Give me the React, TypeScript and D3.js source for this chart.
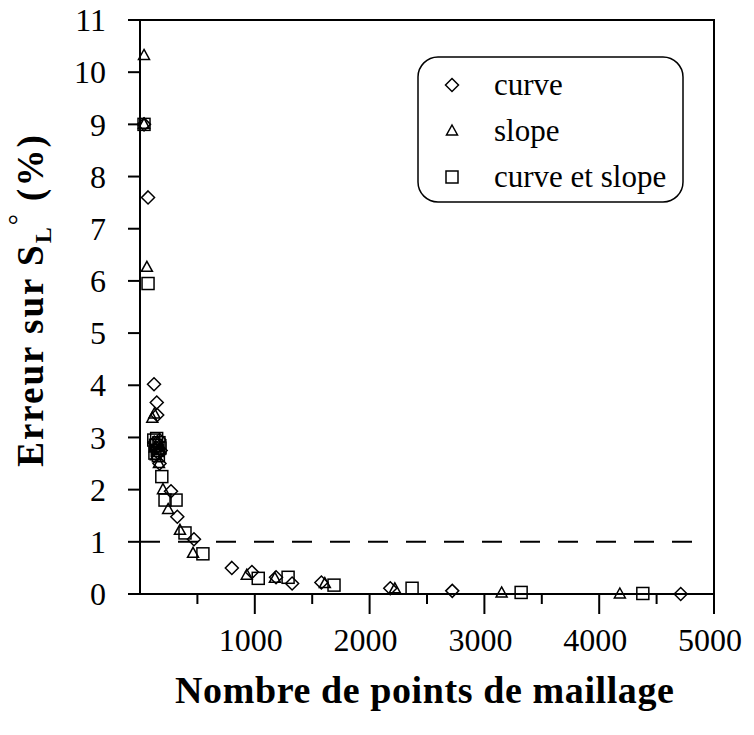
import React from "react";
import * as d3 from "d3";

const curveX = [35, 70, 122, 146, 150, 125, 145, 160, 170, 180, 170, 270, 325, 470, 800, 975, 1185, 1325, 1580, 2180, 2720, 4710];
const curveY = [9.0, 7.6, 4.02, 3.67, 3.43, 2.9, 2.8, 2.7, 2.95, 2.75, 2.5, 1.97, 1.48, 1.05, 0.5, 0.42, 0.32, 0.2, 0.22, 0.11, 0.06, 0.0];

const slopeX = [35, 35, 60, 107, 125, 130, 155, 170, 140, 165, 200, 245, 348, 462, 930, 1175, 1610, 2220, 3150, 4180];
const slopeY = [10.32, 9.0, 6.26, 3.37, 3.45, 2.8, 2.9, 2.75, 2.65, 2.5, 2.0, 1.62, 1.22, 0.78, 0.36, 0.3, 0.2, 0.1, 0.02, 0.0];

const csX = [35, 70, 120, 135, 150, 165, 175, 130, 145, 160, 190, 218, 314, 392, 548, 1030, 1290, 1690, 2370, 3320, 4380];
const csY = [9.0, 5.95, 2.95, 2.85, 2.75, 2.9, 2.8, 2.7, 2.98, 2.65, 2.25, 1.8, 1.8, 1.17, 0.77, 0.3, 0.32, 0.17, 0.11, 0.03, 0.01];

const xMajorTicks = [1000, 2000, 3000, 4000, 5000];
const xMinorTicks = [500, 1500, 2500, 3500, 4500];
const yTicks = [0, 1, 2, 3, 4, 5, 6, 7, 8, 9, 10, 11];
const thresholdY = 1;

const legendLabels = ["curve", "slope", "curve et slope"];

const FONT = "'Liberation Serif', 'Times New Roman', serif";

function Marker({ type, cx, cy }: { type: string; cx: number; cy: number }) {
  const sw = 1.5;
  if (type === "diamond") {
    const r = 6.5;
    return (
      <path
        d={`M${cx},${cy - r}L${cx + r},${cy}L${cx},${cy + r}L${cx - r},${cy}Z`}
        fill="none"
        stroke="#000"
        strokeWidth={sw}
      />
    );
  }
  if (type === "triangle") {
    const w = 5.5;
    const h = 10;
    return (
      <path
        d={`M${cx},${cy - h * 0.6}L${cx + w},${cy + h * 0.4}L${cx - w},${cy + h * 0.4}Z`}
        fill="none"
        stroke="#000"
        strokeWidth={sw}
      />
    );
  }
  const s = 6;
  return <rect x={cx - s} y={cy - s} width={2 * s} height={2 * s} fill="none" stroke="#000" strokeWidth={sw} />;
}

export default function App() {
  const W = 754;
  const H = 735;
  const x = d3.scaleLinear().domain([0, 5000]).range([140, 714]);
  const y = d3.scaleLinear().domain([0, 11]).range([594, 20]);

  const series = [
    { type: "diamond", xs: curveX, ys: curveY },
    { type: "triangle", xs: slopeX, ys: slopeY },
    { type: "square", xs: csX, ys: csY },
  ];

  const legendTypes = ["diamond", "triangle", "square"];

  return (
    <svg width={W} height={H} style={{ position: "absolute", left: 0, top: 0, background: "#fff" }}>
      <rect x={0} y={0} width={W} height={H} fill="#fff" />
      {/* plot frame */}
      <rect x={x(0)} y={y(11)} width={x(5000) - x(0)} height={y(0) - y(11)} fill="none" stroke="#000" strokeWidth={2} />
      {/* y ticks */}
      {yTicks.map((t) => (
        <g key={"y" + t}>
          <line x1={x(0) - 12} x2={x(0)} y1={y(t)} y2={y(t)} stroke="#000" strokeWidth={2} />
          <text
            x={106}
            y={y(t)}
            dy="0.35em"
            textAnchor="end"
            fontFamily={FONT}
            fontSize={32}
            fill="#000"
          >
            {t}
          </text>
        </g>
      ))}
      {/* x ticks */}
      {xMajorTicks.map((t) => (
        <g key={"xM" + t}>
          <line x1={x(t)} x2={x(t)} y1={y(0)} y2={y(0) + 20} stroke="#000" strokeWidth={2} />
          <text x={x(t) - 4} y={651} textAnchor="middle" fontFamily={FONT} fontSize={32} fill="#000">
            {t}
          </text>
        </g>
      ))}
      {xMinorTicks.map((t) => (
        <line key={"xm" + t} x1={x(t)} x2={x(t)} y1={y(0)} y2={y(0) + 10} stroke="#000" strokeWidth={2} />
      ))}
      {/* threshold dashed line */}
      <line
        x1={x(0)}
        x2={700}
        y1={y(thresholdY)}
        y2={y(thresholdY)}
        stroke="#000"
        strokeWidth={2}
        strokeDasharray="20,18"
      />
      {/* markers */}
      {series.map((s) =>
        s.xs.map((xv, i) => <Marker key={s.type + i} type={s.type} cx={x(xv)} cy={y(s.ys[i])} />)
      )}
      {/* legend */}
      <rect x={418} y={57} width={265} height={145} rx={20} ry={20} fill="#fff" stroke="#000" strokeWidth={1.5} />
      {legendLabels.map((lab, i) => (
        <g key={lab}>
          <Marker type={legendTypes[i]} cx={452} cy={85 + i * 46} />
          <text x={494} y={95 + i * 46} fontFamily={FONT} fontSize={31} fill="#000">
            {lab}
          </text>
        </g>
      ))}
      {/* axis titles */}
      <text x={175} y={703} fontFamily={FONT} fontSize={38} fontWeight="bold" letterSpacing={0.6} fill="#000">
        Nombre de points de maillage
      </text>
      <text
        transform="translate(43,300) rotate(-90)"
        textAnchor="middle"
        fontFamily={FONT}
        fontSize={37}
        fontWeight="bold"
        letterSpacing={2}
        fill="#000"
      >
        Erreur sur S
        <tspan fontSize={24} dy={8}>L</tspan>
        <tspan fontSize={28} fontWeight="normal" dy={-24}>°</tspan>
        <tspan dy={16}> (%)</tspan>
      </text>
    </svg>
  );
}
